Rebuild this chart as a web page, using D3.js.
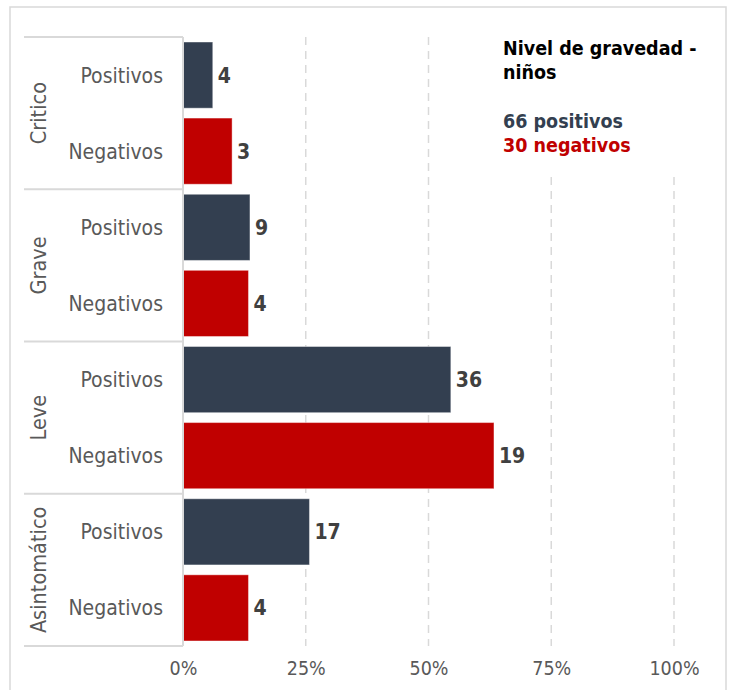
<!DOCTYPE html>
<html>
<head>
<meta charset="utf-8">
<script src="https://cdn.jsdelivr.net/npm/d3@7"></script>
<style>
  body { margin: 0; background: #fff; }
  svg text { font-family: "DejaVu Sans Condensed", "DejaVu Sans", sans-serif; }
</style>
</head>
<body>
<div id="chart"></div>
<script>
// data
var groups = ["Critico", "Grave", "Leve", "Asintomático"];
var series = ["Positivos", "Negativos"];
var positivos = [4, 9, 36, 17];
var negativos = [3, 4, 19, 4];
var totals = [66, 30];
var xTicks = [0, 0.25, 0.5, 0.75, 1];

var width = 731, height = 690;
var colors = { "Positivos": "#333f50", "Negativos": "#c00000" };

var rows = [];
groups.forEach(function(g, i) {
  rows.push({ group: g, serie: "Positivos", n: positivos[i], pct: positivos[i] / totals[0] });
  rows.push({ group: g, serie: "Negativos", n: negativos[i], pct: negativos[i] / totals[1] });
});

var svg = d3.select("#chart").append("svg")
  .attr("width", width)
  .attr("height", height);

// outer frame
svg.append("rect")
  .attr("x", 10).attr("y", 7)
  .attr("width", 716).attr("height", 700)
  .attr("fill", "none")
  .attr("stroke", "#d9d9d9")
  .attr("stroke-width", 1.5);

var x = d3.scaleLinear().domain([0, 1]).range([183, 674]);
var y0 = d3.scaleBand().domain(groups).range([37, 646]);
var y1 = d3.scaleBand().domain(series).range([0, y0.bandwidth()])
  .paddingInner(0.13).paddingOuter(0.066);

// gridlines
svg.append("g").selectAll("line")
  .data(xTicks.slice(1))
  .enter().append("line")
  .attr("x1", function(d) { return x(d); })
  .attr("x2", function(d) { return x(d); })
  .attr("y1", 37)
  .attr("y2", 646)
  .attr("stroke", "#d9d9d9")
  .attr("stroke-width", 1.5)
  .attr("stroke-dasharray", "8,6");

// bars
svg.append("g").selectAll("rect")
  .data(rows)
  .enter().append("rect")
  .attr("x", x(0))
  .attr("y", function(d) { return y0(d.group) + y1(d.serie); })
  .attr("width", function(d) { return x(d.pct) - x(0); })
  .attr("height", y1.bandwidth())
  .attr("fill", function(d) { return colors[d.serie]; })
  .attr("stroke", "#fff")
  .attr("stroke-opacity", 0.4)
  .attr("stroke-width", 1);

// value labels
svg.append("g").selectAll("text")
  .data(rows)
  .enter().append("text")
  .attr("x", function(d) { return x(d.pct) + 5; })
  .attr("y", function(d) { return y0(d.group) + y1(d.serie) + y1.bandwidth() / 2; })
  .attr("dy", "0.36em")
  .attr("font-size", 21)
  .attr("font-weight", "bold")
  .attr("fill", "#404040")
  .text(function(d) { return d.n; });

// vertical axis line
svg.append("line")
  .attr("x1", x(0)).attr("x2", x(0))
  .attr("y1", 37).attr("y2", 646)
  .attr("stroke", "#d9d9d9")
  .attr("stroke-width", 2);

// group separators
svg.append("g").selectAll("line")
  .data(groups.map(function(g) { return y0(g); }).concat([646]))
  .enter().append("line")
  .attr("x1", 24).attr("x2", x(0))
  .attr("y1", function(d) { return d; })
  .attr("y2", function(d) { return d; })
  .attr("stroke", "#d9d9d9")
  .attr("stroke-width", 2);

// sub-category labels
svg.append("g").selectAll("text")
  .data(rows)
  .enter().append("text")
  .attr("x", 163)
  .attr("y", function(d) { return y0(d.group) + y1(d.serie) + y1.bandwidth() / 2; })
  .attr("dy", "0.36em")
  .attr("text-anchor", "end")
  .attr("font-size", 21)
  .attr("fill", "#595959")
  .text(function(d) { return d.serie; });

// group labels
svg.append("g").selectAll("text")
  .data(groups)
  .enter().append("text")
  .attr("transform", function(d) {
    return "translate(38," + (y0(d) + y0.bandwidth() / 2) + ") rotate(-90)";
  })
  .attr("dy", "0.36em")
  .attr("text-anchor", "middle")
  .attr("font-size", 21.5)
  .attr("fill", "#595959")
  .text(function(d) { return d; });

// x axis
var xAxis = svg.append("g")
  .attr("transform", "translate(0,658)")
  .call(d3.axisBottom(x).tickValues(xTicks).tickFormat(d3.format(".0%")).tickSize(0));
xAxis.select(".domain").remove();
xAxis.selectAll("text")
  .attr("font-size", 19.5)
  .attr("fill", "#595959")
  .style("font-family", "'DejaVu Sans Condensed', 'DejaVu Sans', sans-serif");

// legend box
svg.append("rect")
  .attr("x", 492).attr("y", 30)
  .attr("width", 228).attr("height", 142)
  .attr("fill", "#fff");

var legend = svg.append("g").attr("font-size", 19.5).attr("font-weight", "bold");
legend.append("text").attr("x", 503).attr("y", 55).attr("fill", "#000").text("Nivel de gravedad -");
legend.append("text").attr("x", 503).attr("y", 79).attr("fill", "#000").text("niños");
legend.append("text").attr("x", 503).attr("y", 128).attr("fill", colors["Positivos"])
  .text(totals[0] + " positivos");
legend.append("text").attr("x", 503).attr("y", 152).attr("fill", colors["Negativos"])
  .text(totals[1] + " negativos");
</script>
</body>
</html>
